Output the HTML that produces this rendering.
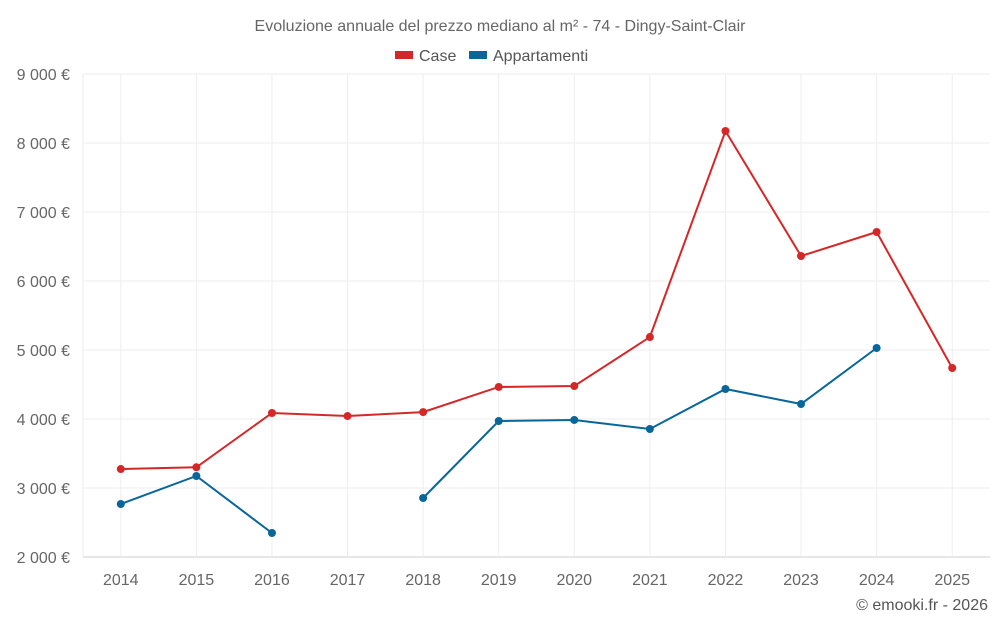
<!DOCTYPE html>
<html><head><meta charset="utf-8"><style>
body{margin:0;background:#fff;font-family:"Liberation Sans",sans-serif}
svg text{font-family:"Liberation Sans",sans-serif}
</style></head><body>
<svg id="chart" width="1000" height="625" viewBox="0 0 1000 625">
<text x="500" y="31" text-anchor="middle" font-size="16" fill="#666">Evoluzione annuale del prezzo mediano al m² - 74 - Dingy-Saint-Clair</text>
<g><rect x="395" y="51" width="18" height="8" fill="#d62728"/><text x="419" y="61" font-size="16" fill="#555">Case</text></g>
<g><rect x="469" y="51" width="18" height="8" fill="#08669a"/><text x="493" y="61" font-size="16" fill="#555">Appartamenti</text></g>
<g id="grid"></g><g id="axes"></g><g id="series"></g>
<text x="988" y="610" text-anchor="end" font-size="16" fill="#555">© emooki.fr - 2026</text>
</svg>
<script>
const years=[2014,2015,2016,2017,2018,2019,2020,2021,2022,2023,2024,2025];
const caseVals=[3275,3300,4087,4043,4100,4464,4478,5188,8174,6362,6710,4739];
const appVals=[2768,3174,2348,null,2855,3971,3986,3855,4435,4217,5029,null];
const yTicks=[2000,3000,4000,5000,6000,7000,8000,9000];
const yTickLabels=["2 000 €","3 000 €","4 000 €","5 000 €","6 000 €","7 000 €","8 000 €","9 000 €"];
const L=83,R=990,T=74,B=557,ymin=2000,ymax=9000;
const step=(R-L)/years.length;
const x=i=>L+step*(i+0.5);
const y=v=>B-(v-ymin)/(ymax-ymin)*(B-T);
const ns="http://www.w3.org/2000/svg";
function mk(tag,attrs,parent){const e=document.createElementNS(ns,tag);for(const k in attrs)e.setAttribute(k,attrs[k]);parent.appendChild(e);return e;}
const grid=document.getElementById('grid'),axes=document.getElementById('axes'),series=document.getElementById('series');
yTicks.forEach((t,i)=>{
 const l=mk('line',{x1:L,x2:R,y1:y(t),y2:y(t),stroke:i===0?'#ccc':'#eee'},grid);
 
 
 const tx=mk('text',{x:70,y:y(t)+6,'text-anchor':'end','font-size':16,fill:'#666'},axes);
 tx.textContent=yTickLabels[i];
 
 
});
const la=mk('line',{x1:L,x2:L,y1:T,y2:B,stroke:'#eee'},grid);


years.forEach((yr,i)=>{
 const l=mk('line',{x1:x(i),x2:x(i),y1:T,y2:B,stroke:'#eee'},grid);
 
 
 const tx=mk('text',{x:x(i),y:585,'text-anchor':'middle','font-size':16,fill:'#666'},axes);
 tx.textContent=yr;
 
 
});
function draw(vals,color,name){
 let segs=[],cur=[];
 vals.forEach((v,i)=>{if(v==null){if(cur.length)segs.push(cur);cur=[];}else cur.push([x(i),y(v)]);});
 if(cur.length)segs.push(cur);
 segs.forEach(s=>{if(s.length>1){
  const p=mk('polyline',{points:s.map(q=>q.join(',')).join(' '),fill:'none',stroke:color,'stroke-width':2},series);
  
  
 }});
 vals.forEach((v,i)=>{if(v==null)return;
  const c=mk('circle',{cx:x(i),cy:y(v),r:4,fill:color},series);
  
  
 });
}
draw(appVals,'#08669a','appartamenti');
draw(caseVals,'#d62728','case');
</script>
</body></html>
